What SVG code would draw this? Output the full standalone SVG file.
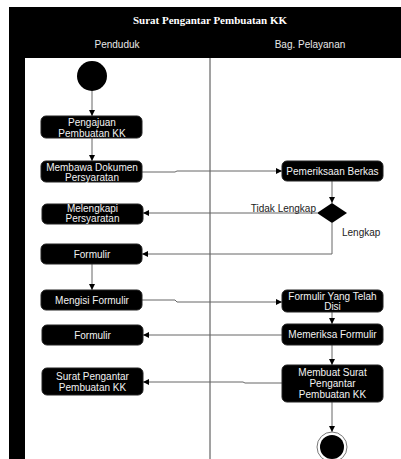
<svg xmlns="http://www.w3.org/2000/svg" width="401" height="459" viewBox="0 0 401 459">
<defs>
<style>
.act{fill:#000;stroke:#222;stroke-width:1}
.t{font-family:"Liberation Sans",Arial,sans-serif;font-size:10px;fill:#f2f2f2;text-anchor:middle}
.lbl{font-family:"Liberation Sans",Arial,sans-serif;font-size:10px;fill:#222}
.hdr{font-family:"Liberation Sans",Arial,sans-serif;font-size:10px;fill:#e8e8e8;text-anchor:middle}
.ttl{font-family:"Liberation Serif","Times New Roman",serif;font-size:11px;font-weight:bold;fill:#fff;text-anchor:middle}
.c{fill:none;stroke:#666;stroke-width:1}
</style>
<marker id="ah" markerUnits="userSpaceOnUse" markerWidth="6" markerHeight="6" refX="6" refY="3" orient="auto">
<path d="M0,0 L6,3 L0,6 z" fill="#000"/>
</marker>
</defs>
<rect x="0" y="0" width="401" height="459" fill="#fff"/>
<g id="swimlanes">
<rect x="9" y="7" width="392" height="51" fill="#000"/>
<rect x="9" y="7" width="16" height="452" fill="#000"/>
<line x1="210" y1="58" x2="210" y2="459" stroke="#444" stroke-width="1"/>
<text class="ttl" x="210" y="24">Surat Pengantar Pembuatan KK</text>
<text class="hdr" x="117" y="48">Penduduk</text>
<text class="hdr" x="310" y="48">Bag. Pelayanan</text>
</g>
<g id="connectors">
<line class="c" x1="92" y1="91" x2="92" y2="116" marker-end="url(#ah)"/>
<line class="c" x1="92" y1="138" x2="92" y2="161" marker-end="url(#ah)"/>
<polyline class="c" points="142,172 175,172 177,171 282,171" marker-end="url(#ah)"/>
<line class="c" x1="332" y1="181" x2="332" y2="203" marker-end="url(#ah)"/>
<line class="c" x1="317" y1="213" x2="143" y2="213" marker-end="url(#ah)"/>
<polyline class="c" points="332,223 332,254 142,254" marker-end="url(#ah)"/>
<line class="c" x1="92" y1="264" x2="92" y2="290" marker-end="url(#ah)"/>
<polyline class="c" points="142,300 175,300 177,302 282,302" marker-end="url(#ah)"/>
<line class="c" x1="332" y1="312" x2="332" y2="324" marker-end="url(#ah)"/>
<line class="c" x1="282" y1="335" x2="143" y2="335" marker-end="url(#ah)"/>
<line class="c" x1="332" y1="345" x2="332" y2="365" marker-end="url(#ah)"/>
<polyline class="c" points="282,383 245,383 243,382 143,382" marker-end="url(#ah)"/>
<line class="c" x1="332" y1="402" x2="332" y2="432" marker-end="url(#ah)"/>
<text class="lbl" x="316" y="212" text-anchor="end">Tidak Lengkap</text>
<text class="lbl" x="342" y="235.5">Lengkap</text>
</g>
<g id="start"><circle cx="92" cy="76" r="15" fill="#000"/></g>
<g id="pengajuan">
<rect class="act" x="41" y="116" width="101" height="22" rx="5"/>
<text class="t" x="92" y="126">Pengajuan</text>
<text class="t" x="92" y="136.5">Pembuatan KK</text>
</g>
<g id="membawa">
<rect class="act" x="41" y="161" width="101" height="21" rx="5"/>
<text class="t" x="92" y="170.5">Membawa Dokumen</text>
<text class="t" x="92" y="180.5">Persyaratan</text>
</g>
<g id="pemeriksaan">
<rect class="act" x="282" y="161" width="101" height="20" rx="5"/>
<text class="t" x="332.5" y="174.5">Pemeriksaan Berkas</text>
</g>
<g id="decision"><polygon points="317,213 332,203 347,213 332,223" fill="#000"/></g>
<g id="melengkapi">
<rect class="act" x="42" y="204" width="101" height="20" rx="5"/>
<text class="t" x="92.5" y="212">Melengkapi</text>
<text class="t" x="92.5" y="222">Persyaratan</text>
</g>
<g id="formulir1">
<rect class="act" x="41" y="244" width="101" height="20" rx="5"/>
<text class="t" x="92" y="257.5">Formulir</text>
</g>
<g id="mengisi">
<rect class="act" x="41" y="290" width="101" height="20" rx="5"/>
<text class="t" x="92" y="303.5">Mengisi Formulir</text>
</g>
<g id="formulirdisi">
<rect class="act" x="282" y="290" width="101" height="22" rx="5"/>
<text class="t" x="332.5" y="299.5">Formulir Yang Telah</text>
<text class="t" x="332.5" y="310">Disi</text>
</g>
<g id="memeriksa">
<rect class="act" x="282" y="324" width="101" height="21" rx="5"/>
<text class="t" x="332.5" y="338">Memeriksa Formulir</text>
</g>
<g id="formulir2">
<rect class="act" x="42" y="325" width="101" height="20" rx="5"/>
<text class="t" x="92.5" y="338.5">Formulir</text>
</g>
<g id="membuat">
<rect class="act" x="282" y="365" width="101" height="37" rx="5"/>
<text class="t" x="332.5" y="375.5">Membuat Surat</text>
<text class="t" x="332.5" y="386.5">Pengantar</text>
<text class="t" x="332.5" y="398">Pembuatan KK</text>
</g>
<g id="suratpengantar">
<rect class="act" x="42" y="368" width="101" height="27" rx="5"/>
<text class="t" x="92.5" y="379.5">Surat Pengantar</text>
<text class="t" x="92.5" y="390.5">Pembuatan KK</text>
</g>
<g id="end">
<circle cx="332" cy="447" r="15" fill="#fff" stroke="#777" stroke-width="1"/>
<circle cx="332" cy="447" r="12" fill="#000"/>
</g>
</svg>
